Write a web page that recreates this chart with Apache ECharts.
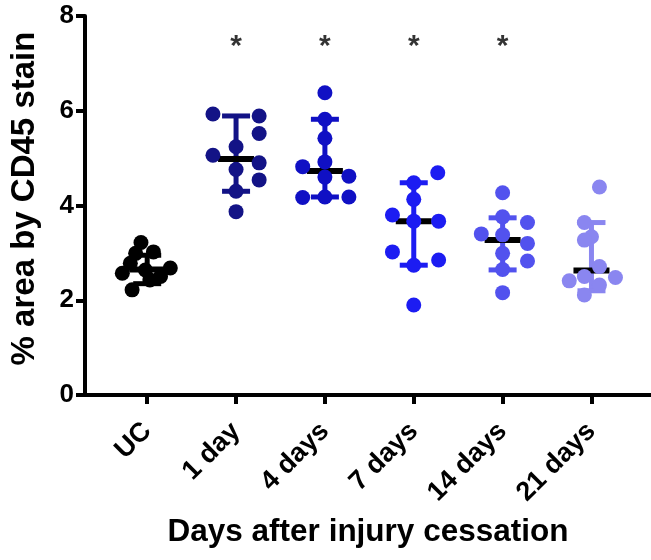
<!DOCTYPE html>
<html>
<head>
<meta charset="utf-8">
<script src="https://cdn.jsdelivr.net/npm/echarts@6/dist/echarts.min.js"></script>
<style>
html,body{margin:0;padding:0;background:#fff;}
#chart{width:651px;height:560px;}
</style>
</head>
<body>
<div id="chart"></div>
<script>
// ---- data ----
const categories = ['UC', '1 day', '4 days', '7 days', '14 days', '21 days'];
const yTicks = [0, 2, 4, 6, 8];

const ucValues     = [3.22, 3.02, 2.99, 2.78, 2.68, 2.57, 2.64, 2.50, 2.43, 2.22];
const ucJitter     = [-0.07, 0.07, -0.13, -0.19, 0.26, -0.28, -0.02, 0.15, 0.03, -0.17];
const day1Values   = [5.93, 5.89, 5.52, 5.24, 5.06, 4.90, 4.76, 4.54, 4.30, 3.87];
const day1Jitter   = [-0.26, 0.26, 0.26, 0, -0.26, 0.26, 0, 0.26, 0, 0];
const day4Values   = [6.38, 5.82, 5.42, 4.92, 4.82, 4.60, 4.62, 4.17, 4.18, 4.18];
const day4Jitter   = [0, 0, 0, 0, -0.25, 0, 0.27, -0.25, 0, 0.27];
const day7Values   = [4.69, 4.48, 4.13, 3.80, 3.67, 3.67, 3.02, 2.85, 2.74, 1.90];
const day7Jitter   = [0.27, 0, 0, -0.24, 0, 0.28, -0.24, 0.28, 0, 0];
const day14Values  = [4.27, 3.76, 3.64, 3.40, 3.38, 3.20, 2.99, 2.83, 2.65, 2.16];
const day14Jitter  = [0, 0, 0.28, -0.24, 0, 0.28, 0, 0.28, 0, 0];
const day21Values  = [4.39, 3.64, 3.34, 3.27, 2.71, 2.50, 2.48, 2.41, 2.32, 2.11];
const day21Jitter  = [0.09, -0.08, 0.0, -0.08, 0.09, -0.08, 0.27, -0.25, 0.09, -0.08];

const groupMeans = [2.65, 4.98, 4.73, 3.67, 3.27, 2.63];
const groupUpper = [2.95, 5.89, 5.82, 4.48, 3.74, 3.64];
const groupLower = [2.35, 4.30, 4.18, 2.74, 2.64, 2.20];

const sigMarks = ['', '*', '*', '*', '*', ''];
const sigLevel = [null, 7.36, 7.36, 7.36, 7.36, null];

// ---- styling ----
const groupColors = ['#000000', '#131386', '#1010c4', '#1c1cf2', '#5252ee', '#8a86f0'];
const FONT = '"Liberation Sans", Arial, Helvetica, sans-serif';

const groups = [
  [ucValues, ucJitter], [day1Values, day1Jitter], [day4Values, day4Jitter],
  [day7Values, day7Jitter], [day14Values, day14Jitter], [day21Values, day21Jitter]
];

const chart = echarts.init(document.getElementById('chart'), null, {renderer: 'canvas'});

const errData = categories.map((c, i) => [i, groupMeans[i], groupLower[i], groupUpper[i]]);

const series = [];
series.push({
  type: 'custom',
  z: 1,
  data: errData,
  renderItem: function (params, api) {
    const i = api.value(0);
    const pMean = api.coord([i, api.value(1)]);
    const pLo = api.coord([i, api.value(2)]);
    const pHi = api.coord([i, api.value(3)]);
    const col = groupColors[i];
    const capHalf = 14, medHalf = 18;
    return {
      type: 'group',
      children: [
        {type: 'line', shape: {x1: pLo[0], y1: pLo[1], x2: pHi[0], y2: pHi[1]}, style: {stroke: col, lineWidth: 5}},
        {type: 'line', shape: {x1: pHi[0] - capHalf, y1: pHi[1], x2: pHi[0] + capHalf, y2: pHi[1]}, style: {stroke: col, lineWidth: 5}},
        {type: 'line', shape: {x1: pLo[0] - capHalf, y1: pLo[1], x2: pLo[0] + capHalf, y2: pLo[1]}, style: {stroke: col, lineWidth: 5}},
        {type: 'line', shape: {x1: pMean[0] - medHalf, y1: pMean[1], x2: pMean[0] + medHalf, y2: pMean[1]}, style: {stroke: '#000', lineWidth: 6}}
      ]
    };
  }
});

groups.forEach(function (g, gi) {
  series.push({
    type: 'scatter',
    z: 3,
    symbol: 'circle',
    symbolSize: 15,
    itemStyle: {color: groupColors[gi], opacity: 1},
    data: g[0].map(function (v, k) { return [gi + g[1][k], v]; })
  });
});

series.push({
  type: 'scatter',
  z: 4,
  symbolSize: 1,
  itemStyle: {color: 'rgba(0,0,0,0)'},
  label: {
    show: true, position: 'inside',
    formatter: function (p) { return sigMarks[p.data[0]]; },
    fontSize: 30, fontWeight: 'bold', color: '#000', fontFamily: FONT
  },
  data: sigLevel.map(function (v, i) { return v == null ? null : [i, v]; }).filter(function (d) { return d; })
});

chart.setOption({
  animation: false,
  backgroundColor: '#ffffff',
  grid: {left: 82, right: 0, top: 16, bottom: 165, containLabel: false},
  xAxis: {
    type: 'value',
    min: -0.7, max: 5.67,
    splitLine: {show: false},
    axisLine: {show: true, onZero: false, lineStyle: {color: '#000', width: 4}},
    axisTick: {show: true, length: 9, lineStyle: {color: '#000', width: 4}, customValues: categories.map((c, i) => i)},
    axisLabel: {
      show: true, rotate: 45, margin: 32,
      customValues: categories.map((c, i) => i),
      formatter: function (v) { return categories[Math.round(v)]; },
      fontSize: 27, fontWeight: 'bold', color: '#000', fontFamily: FONT
    },
    name: 'Days after injury cessation',
    nameLocation: 'middle', nameGap: 121,
    nameTextStyle: {fontSize: 31.5, fontWeight: 'bold', color: '#000', fontFamily: FONT}
  },
  yAxis: {
    type: 'value',
    min: 0, max: 8, interval: 2,
    splitLine: {show: false},
    axisLine: {show: true, onZero: false, lineStyle: {color: '#000', width: 4}},
    axisTick: {show: true, length: 9, lineStyle: {color: '#000', width: 4}},
    axisLabel: {
      margin: 11, fontSize: 26, fontWeight: 'bold', color: '#000', fontFamily: FONT,
      formatter: function (v) { return yTicks.indexOf(v) >= 0 ? String(v) : ''; }
    },
    name: '% area by CD45 stain',
    nameLocation: 'middle', nameGap: 44,
    nameTextStyle: {fontSize: 33, fontWeight: 'bold', color: '#000', fontFamily: FONT, padding: [0, 0, 0, 14]}
  },
  series: series
});
</script>
</body>
</html>
